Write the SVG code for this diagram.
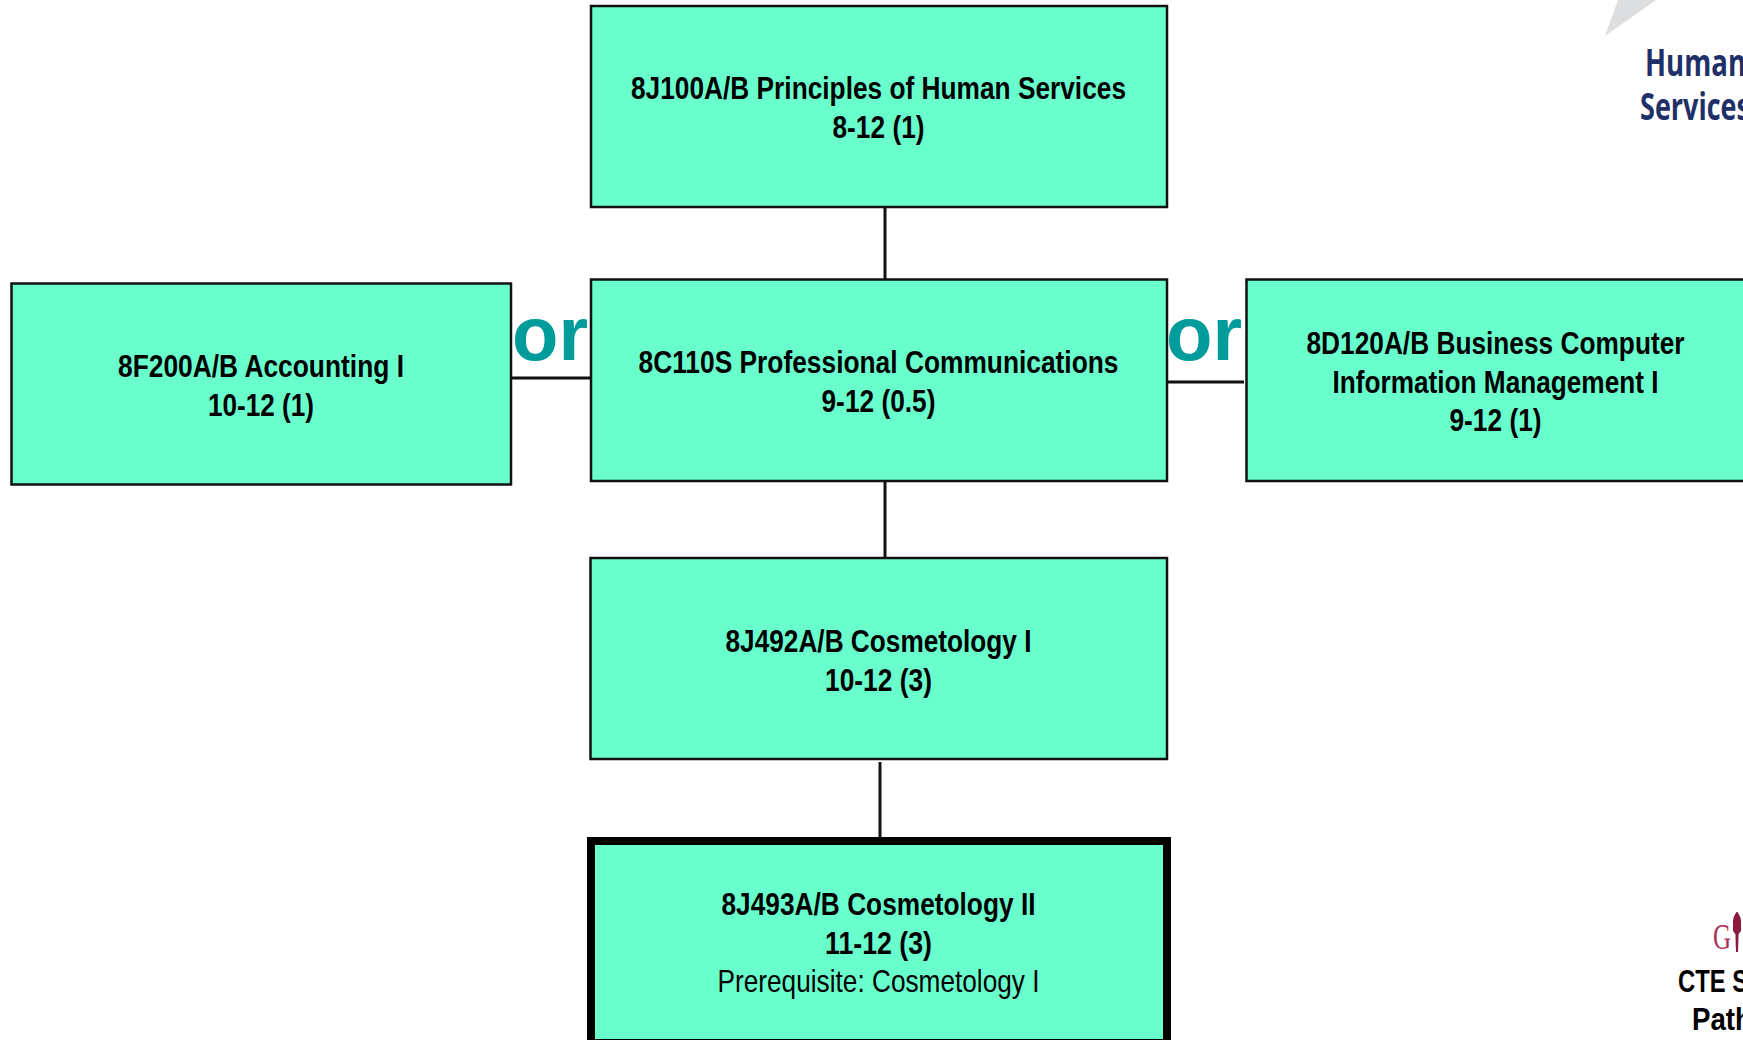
<svg xmlns="http://www.w3.org/2000/svg" width="1743" height="1040" viewBox="0 0 1743 1040">
<style>
.box{fill:#69ffcc;stroke:#111;stroke-width:2.5}
.t{font-family:"Liberation Sans",Arial,sans-serif;font-size:31.500px;font-weight:700;fill:#000;text-anchor:middle}
.n{font-weight:400}
.or{font-family:"Liberation Sans",Arial,sans-serif;font-size:76px;font-weight:700;fill:#009b9b}
.c{stroke:#111;stroke-width:3;fill:none}
.hs{font-family:"Open Sans","Noto Sans",sans-serif;font-size:38px;font-weight:700;fill:#1f3068}
</style>
<rect width="1743" height="1040" fill="#fff"/>
<g id="connectors">
<path class="c" d="M885 207V279M885 482V558M880 762V838M511 378H590M1167 382H1244"/>
</g>
<g id="or-labels">
<text class="or" x="512" y="360">or</text>
<text class="or" x="1166" y="360">or</text>
</g>
<g id="node-principles">
<rect class="box" x="591" y="6" width="576" height="201"/>
<text class="t" x="878.500" y="99" textLength="495" lengthAdjust="spacingAndGlyphs">8J100A/B Principles of Human Services</text>
<text class="t" x="878.500" y="138" textLength="92" lengthAdjust="spacingAndGlyphs">8-12 (1)</text>
</g>
<g id="node-accounting">
<rect class="box" x="11.500" y="283.500" width="499.500" height="201"/>
<text class="t" x="261" y="377" textLength="286" lengthAdjust="spacingAndGlyphs">8F200A/B Accounting I</text>
<text class="t" x="261" y="416" textLength="106" lengthAdjust="spacingAndGlyphs">10-12 (1)</text>
</g>
<g id="node-communications">
<rect class="box" x="591" y="279.500" width="576" height="201.500"/>
<text class="t" x="878.500" y="373" textLength="480" lengthAdjust="spacingAndGlyphs">8C110S Professional Communications</text>
<text class="t" x="878.500" y="412" textLength="114" lengthAdjust="spacingAndGlyphs">9-12 (0.5)</text>
</g>
<g id="node-business">
<rect class="box" x="1246.500" y="279.500" width="510" height="201.500"/>
<text class="t" x="1495.500" y="354" textLength="378" lengthAdjust="spacingAndGlyphs">8D120A/B Business Computer</text>
<text class="t" x="1495.500" y="393" textLength="326" lengthAdjust="spacingAndGlyphs">Information Management I</text>
<text class="t" x="1495.500" y="431" textLength="92" lengthAdjust="spacingAndGlyphs">9-12 (1)</text>
</g>
<g id="node-cosmetology1">
<rect class="box" x="590.500" y="558" width="576.500" height="201"/>
<text class="t" x="878.500" y="652" textLength="306" lengthAdjust="spacingAndGlyphs">8J492A/B Cosmetology I</text>
<text class="t" x="878.500" y="690.500" textLength="107" lengthAdjust="spacingAndGlyphs">10-12 (3)</text>
</g>
<g id="node-cosmetology2">
<rect x="591" y="841" width="576" height="202" fill="#69ffcc" stroke="#000" stroke-width="8"/>
<text class="t" x="878.500" y="915" textLength="314" lengthAdjust="spacingAndGlyphs">8J493A/B Cosmetology II</text>
<text class="t" x="878.500" y="954" textLength="107" lengthAdjust="spacingAndGlyphs">11-12 (3)</text>
<text class="t n" x="878.500" y="992" textLength="322" lengthAdjust="spacingAndGlyphs">Prerequisite: Cosmetology I</text>
</g>
<g id="title">
<polygon points="1605,36 1618,0 1656,0" fill="#dcdedf"/>
<text class="hs" x="1645" y="76" textLength="101" lengthAdjust="spacingAndGlyphs">Human</text>
<text class="hs" x="1640" y="120" textLength="110" lengthAdjust="spacingAndGlyphs">Services</text>
</g>
<g id="logo">
<text x="1713" y="949" font-family="Liberation Serif,serif" font-size="36" fill="#a8325a" textLength="18" lengthAdjust="spacingAndGlyphs">G</text>
<path d="M1736.500 912c-2 3-3.500 6-3.500 9v10l2.400 3 .6 18h2l.6-18 2.400-3v-10c0-3-1.500-6-3.500-9z" fill="#8b1a3d"/>
<text class="t" x="1678" y="992" style="text-anchor:start" textLength="70" lengthAdjust="spacingAndGlyphs">CTE S</text>
<text class="t" x="1692" y="1030" style="text-anchor:start" textLength="60" lengthAdjust="spacingAndGlyphs">Path</text>
</g>
</svg>
